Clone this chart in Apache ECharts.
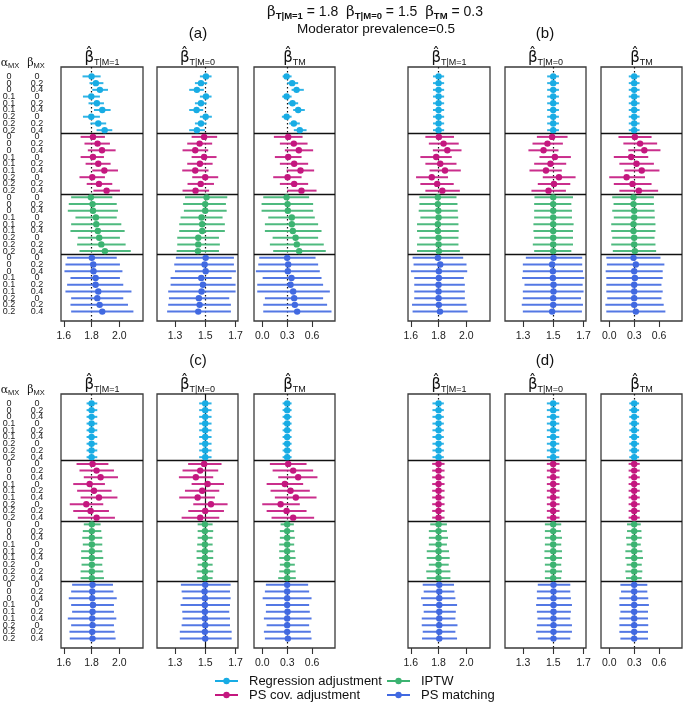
<!DOCTYPE html>
<html><head><meta charset="utf-8">
<script src="https://cdn.jsdelivr.net/npm/echarts@6/dist/echarts.min.js"></script>
<style>html,body{margin:0;padding:0;background:#fff}#c{width:685px;height:703px}</style>
</head><body><div id="c"></div>
<script>
// ---------- labels / categories ----------
const methods = ['Regression adjustment', 'PS cov. adjustment', 'IPTW', 'PS matching'];
const alphaMX = ['0','0','0','0.1','0.1','0.1','0.2','0.2','0.2'];
const betaMX = ['0','0.2','0.4'];
const trueValues = [1.8, 1.5, 0.3];
const ticks1 = [1.6, 1.8, 2.0];
const ticks2 = [1.3, 1.5, 1.7];
const ticks3 = [0.0, 0.3, 0.6];

// ---------- panel (a) ----------
const est_a1 = [1.800,1.831,1.860,1.798,1.838,1.877,1.798,1.848,1.894, 1.810,1.843,1.875,1.810,1.848,1.892,1.805,1.853,1.908, 1.795,1.807,1.810,1.831,1.834,1.845,1.855,1.870,1.896, 1.802,1.812,1.814,1.829,1.829,1.848,1.841,1.858,1.877];
const lo_a1 = [1.735,1.785,1.805,1.738,1.778,1.817,1.738,1.792,1.836, 1.721,1.749,1.773,1.721,1.757,1.805,1.713,1.765,1.813, 1.653,1.636,1.629,1.684,1.653,1.648,1.701,1.696,1.713, 1.624,1.612,1.605,1.648,1.624,1.612,1.653,1.648,1.653];
const hi_a1 = [1.865,1.885,1.918,1.860,1.889,1.937,1.860,1.905,1.949, 1.896,1.932,1.973,1.889,1.937,1.990,1.896,1.949,2.004, 1.949,1.981,1.990,1.981,2.014,2.038,2.004,2.045,2.082, 1.981,2.004,2.022,2.004,2.028,2.087,2.028,2.062,2.101];
const est_a2 = [1.505,1.472,1.445,1.505,1.472,1.443,1.503,1.472,1.445, 1.493,1.463,1.434,1.493,1.465,1.434,1.500,1.470,1.436, 1.509,1.500,1.500,1.476,1.480,1.480,1.454,1.454,1.452, 1.503,1.496,1.503,1.474,1.485,1.476,1.458,1.463,1.454];
const lo_a2 = [1.465,1.432,1.394,1.465,1.432,1.394,1.465,1.432,1.394, 1.410,1.381,1.350,1.410,1.381,1.348,1.414,1.383,1.350, 1.366,1.354,1.359,1.337,1.328,1.328,1.315,1.315,1.311, 1.306,1.295,1.300,1.271,1.271,1.255,1.260,1.255,1.248];
const hi_a2 = [1.542,1.513,1.491,1.542,1.509,1.487,1.544,1.509,1.498, 1.579,1.546,1.520,1.575,1.549,1.522,1.586,1.558,1.526, 1.646,1.637,1.642,1.615,1.630,1.630,1.591,1.597,1.591, 1.690,1.690,1.703,1.675,1.701,1.701,1.659,1.670,1.670];
const est_a3 = [0.293,0.360,0.413,0.293,0.364,0.432,0.293,0.380,0.452, 0.312,0.380,0.440,0.312,0.384,0.460,0.305,0.384,0.472, 0.293,0.305,0.308,0.356,0.356,0.368,0.401,0.416,0.444, 0.300,0.312,0.308,0.352,0.340,0.372,0.384,0.392,0.420];
const lo_a3 = [0.245,0.300,0.353,0.240,0.312,0.372,0.236,0.324,0.380, 0.140,0.212,0.272,0.152,0.212,0.293,0.132,0.212,0.300, 0.012,-0.008,-0.008,0.072,0.032,0.032,0.125,0.092,0.132, -0.036,-0.048,-0.076,0.005,-0.060,-0.060,0.032,0.012,0.012];
const hi_a3 = [0.353,0.432,0.500,0.353,0.432,0.512,0.353,0.452,0.533, 0.485,0.545,0.612,0.473,0.552,0.624,0.473,0.552,0.653, 0.564,0.612,0.612,0.632,0.672,0.713,0.672,0.740,0.764, 0.641,0.672,0.692,0.713,0.732,0.813,0.732,0.780,0.833];

// ---------- panel (b) ----------
const est_b1 = [1.800,1.800,1.800,1.800,1.800,1.800,1.800,1.800,1.800, 1.802,1.836,1.863,1.783,1.812,1.846,1.751,1.790,1.827, 1.795,1.795,1.798,1.800,1.795,1.795,1.800,1.800,1.802, 1.795,1.812,1.802,1.802,1.800,1.800,1.800,1.802,1.810];
const lo_b1 = [1.760,1.760,1.760,1.760,1.760,1.760,1.760,1.760,1.760, 1.705,1.730,1.759,1.669,1.705,1.735,1.638,1.669,1.705, 1.662,1.662,1.657,1.669,1.645,1.645,1.662,1.645,1.645, 1.613,1.620,1.601,1.625,1.625,1.625,1.625,1.609,1.613];
const hi_b1 = [1.840,1.840,1.840,1.840,1.840,1.840,1.840,1.840,1.840, 1.911,1.945,1.965,1.895,1.929,1.960,1.868,1.909,1.953, 1.929,1.936,1.938,1.941,1.943,1.945,1.943,1.943,1.953, 1.977,2.001,2.006,1.982,1.989,1.989,1.989,2.001,2.009];
const est_b2 = [1.500,1.500,1.500,1.500,1.500,1.500,1.500,1.500,1.500, 1.493,1.462,1.436,1.511,1.482,1.452,1.538,1.505,1.469, 1.500,1.500,1.500,1.500,1.500,1.500,1.500,1.500,1.500, 1.502,1.493,1.498,1.498,1.502,1.502,1.500,1.500,1.493];
const lo_b2 = [1.460,1.460,1.460,1.460,1.460,1.460,1.460,1.460,1.460, 1.392,1.363,1.336,1.409,1.374,1.343,1.431,1.398,1.356, 1.376,1.374,1.374,1.374,1.369,1.369,1.374,1.365,1.374, 1.319,1.299,1.299,1.294,1.310,1.299,1.299,1.292,1.299];
const hi_b2 = [1.538,1.538,1.538,1.538,1.538,1.538,1.538,1.538,1.538, 1.595,1.564,1.535,1.617,1.586,1.557,1.648,1.613,1.584, 1.631,1.620,1.624,1.624,1.635,1.631,1.631,1.631,1.620, 1.692,1.692,1.697,1.706,1.695,1.701,1.684,1.697,1.690];
const est_b3 = [0.300,0.300,0.300,0.300,0.300,0.300,0.300,0.300,0.300, 0.308,0.371,0.422,0.264,0.328,0.391,0.209,0.280,0.356, 0.292,0.292,0.300,0.300,0.292,0.292,0.300,0.300,0.308, 0.292,0.320,0.300,0.308,0.300,0.300,0.300,0.300,0.320];
const lo_b3 = [0.235,0.235,0.235,0.235,0.235,0.235,0.235,0.235,0.235, 0.111,0.170,0.229,0.055,0.122,0.182,0.000,0.055,0.122, 0.036,0.052,0.036,0.055,0.024,0.024,0.036,0.024,0.043, -0.035,-0.028,-0.043,-0.035,-0.035,-0.035,-0.024,-0.047,-0.035];
const hi_b3 = [0.365,0.365,0.365,0.365,0.365,0.365,0.365,0.365,0.365, 0.509,0.576,0.616,0.469,0.537,0.604,0.430,0.509,0.588, 0.537,0.537,0.545,0.548,0.556,0.556,0.545,0.556,0.564, 0.616,0.663,0.643,0.643,0.628,0.643,0.628,0.655,0.675];

// ---------- panel (c) ----------
const est_c1 = [1.800,1.800,1.800,1.800,1.800,1.800,1.800,1.800,1.800, 1.807,1.836,1.865,1.786,1.817,1.853,1.762,1.793,1.836, 1.802,1.802,1.802,1.802,1.802,1.802,1.802,1.802,1.802, 1.807,1.805,1.805,1.810,1.807,1.805,1.807,1.805,1.807];
const lo_c1 = [1.764,1.764,1.764,1.764,1.764,1.764,1.764,1.764,1.764, 1.692,1.713,1.744,1.668,1.696,1.721,1.643,1.668,1.701, 1.744,1.737,1.733,1.737,1.725,1.725,1.728,1.721,1.721, 1.660,1.653,1.636,1.653,1.660,1.629,1.653,1.641,1.643];
const hi_c1 = [1.841,1.841,1.841,1.841,1.841,1.841,1.841,1.841,1.841, 1.921,1.961,1.990,1.896,1.944,1.986,1.884,1.925,1.968, 1.865,1.870,1.877,1.877,1.877,1.884,1.877,1.884,1.889, 1.954,1.957,1.981,1.961,1.961,1.978,1.961,1.966,1.973];
const est_c2 = [1.500,1.500,1.500,1.500,1.500,1.500,1.500,1.500,1.500, 1.493,1.467,1.438,1.516,1.480,1.450,1.538,1.500,1.467, 1.498,1.498,1.498,1.498,1.498,1.498,1.498,1.498,1.498, 1.500,1.496,1.498,1.498,1.498,1.498,1.500,1.498,1.500];
const lo_c2 = [1.460,1.460,1.460,1.460,1.460,1.460,1.460,1.460,1.460, 1.387,1.350,1.326,1.410,1.366,1.328,1.421,1.388,1.344, 1.450,1.450,1.450,1.447,1.443,1.443,1.450,1.443,1.447, 1.339,1.344,1.350,1.337,1.348,1.350,1.344,1.332,1.332];
const hi_c2 = [1.542,1.542,1.542,1.542,1.542,1.542,1.542,1.542,1.542, 1.608,1.586,1.553,1.624,1.593,1.564,1.648,1.624,1.593, 1.549,1.553,1.549,1.549,1.553,1.553,1.549,1.553,1.549, 1.668,1.664,1.668,1.664,1.659,1.664,1.664,1.675,1.675];
const est_c3 = [0.300,0.300,0.300,0.300,0.300,0.300,0.300,0.300,0.300, 0.312,0.372,0.432,0.272,0.340,0.404,0.221,0.293,0.372, 0.300,0.300,0.300,0.300,0.300,0.300,0.300,0.300,0.300, 0.300,0.300,0.300,0.300,0.304,0.300,0.300,0.300,0.308];
const lo_c3 = [0.245,0.245,0.245,0.245,0.245,0.245,0.245,0.245,0.245, 0.092,0.125,0.192,0.053,0.100,0.152,0.000,0.053,0.112, 0.221,0.212,0.212,0.204,0.204,0.204,0.212,0.204,0.192, 0.044,0.032,0.005,0.044,0.044,0.020,0.053,0.020,0.032];
const hi_c3 = [0.353,0.353,0.353,0.353,0.353,0.353,0.353,0.353,0.353, 0.533,0.612,0.664,0.492,0.572,0.653,0.452,0.533,0.624, 0.380,0.384,0.392,0.384,0.392,0.401,0.392,0.401,0.404, 0.552,0.564,0.593,0.564,0.572,0.593,0.564,0.584,0.593];

// ---------- panel (d) ----------
const est_d1 = [1.800,1.800,1.800,1.800,1.800,1.800,1.800,1.800,1.800, 1.800,1.800,1.800,1.800,1.800,1.800,1.800,1.800,1.800, 1.800,1.800,1.800,1.800,1.800,1.800,1.800,1.800,1.800, 1.805,1.805,1.805,1.805,1.805,1.805,1.805,1.805,1.805];
const lo_d1 = [1.756,1.756,1.756,1.756,1.756,1.756,1.756,1.756,1.756, 1.754,1.754,1.754,1.754,1.754,1.754,1.754,1.754,1.754, 1.740,1.730,1.730,1.730,1.715,1.715,1.730,1.711,1.715, 1.686,1.693,1.674,1.686,1.693,1.679,1.679,1.686,1.681];
const hi_d1 = [1.838,1.838,1.838,1.838,1.838,1.838,1.838,1.838,1.838, 1.843,1.843,1.843,1.843,1.843,1.843,1.843,1.843,1.843, 1.860,1.860,1.868,1.860,1.875,1.880,1.873,1.885,1.885, 1.911,1.914,1.921,1.933,1.924,1.921,1.936,1.921,1.933];
const est_d2 = [1.500,1.500,1.500,1.500,1.500,1.500,1.500,1.500,1.500, 1.500,1.500,1.500,1.500,1.500,1.500,1.500,1.500,1.500, 1.500,1.500,1.500,1.500,1.500,1.500,1.500,1.500,1.500, 1.502,1.502,1.502,1.502,1.502,1.502,1.502,1.502,1.502];
const lo_d2 = [1.458,1.458,1.458,1.458,1.458,1.458,1.458,1.458,1.458, 1.458,1.458,1.458,1.458,1.458,1.458,1.458,1.458,1.458, 1.445,1.445,1.445,1.445,1.442,1.442,1.445,1.445,1.445, 1.398,1.392,1.392,1.387,1.392,1.396,1.392,1.387,1.398];
const hi_d2 = [1.540,1.540,1.540,1.540,1.540,1.540,1.540,1.540,1.540, 1.542,1.542,1.542,1.542,1.542,1.542,1.542,1.542,1.542, 1.553,1.551,1.558,1.553,1.558,1.558,1.553,1.558,1.553, 1.613,1.613,1.617,1.624,1.617,1.613,1.624,1.624,1.613];
const est_d3 = [0.300,0.300,0.300,0.300,0.300,0.300,0.300,0.300,0.300, 0.300,0.300,0.300,0.300,0.300,0.300,0.300,0.300,0.300, 0.300,0.300,0.300,0.300,0.300,0.300,0.300,0.300,0.300, 0.300,0.300,0.300,0.300,0.300,0.300,0.300,0.300,0.300];
const lo_d3 = [0.241,0.241,0.241,0.241,0.241,0.241,0.241,0.241,0.241, 0.233,0.233,0.233,0.233,0.233,0.233,0.233,0.233,0.233, 0.214,0.214,0.202,0.209,0.194,0.194,0.209,0.194,0.202, 0.134,0.142,0.122,0.122,0.134,0.122,0.122,0.122,0.134];
const hi_d3 = [0.359,0.359,0.359,0.359,0.359,0.359,0.359,0.359,0.359, 0.367,0.367,0.367,0.367,0.367,0.367,0.367,0.367,0.367, 0.379,0.387,0.391,0.379,0.398,0.406,0.391,0.398,0.391, 0.458,0.458,0.469,0.477,0.466,0.466,0.469,0.466,0.466];

// ---------- layout / style (not data) ----------
const COLORS = ['#18ACE4', '#C4177F', '#3CB371', '#4169E1'];
const FONT = 'Liberation Sans, Arial, sans-serif';
const xRanges = [[1.58, 2.17], [1.181, 1.717], [-0.099, 0.875]];
const tickSets = [ticks1, ticks2, ticks3];
const BOX_H = 254;
const panels = [
  { name: '(a)', est: [est_a1, est_a2, est_a3], lo: [lo_a1, lo_a2, lo_a3], hi: [hi_a1, hi_a2, hi_a3], top: 67,  lefts: [61, 157, 254], rowLabels: true, trueDash: [true, true, true] },
  { name: '(b)', est: [est_b1, est_b2, est_b3], lo: [lo_b1, lo_b2, lo_b3], hi: [hi_b1, hi_b2, hi_b3], top: 67,  lefts: [408, 505, 601], rowLabels: false, trueDash: [true, true, true] },
  { name: '(c)', est: [est_c1, est_c2, est_c3], lo: [lo_c1, lo_c2, lo_c3], hi: [hi_c1, hi_c2, hi_c3], top: 394, lefts: [61, 157, 254], rowLabels: true, trueDash: [true, false, true] },
  { name: '(d)', est: [est_d1, est_d2, est_d3], lo: [lo_d1, lo_d2, lo_d3], hi: [hi_d1, hi_d2, hi_d3], top: 394, lefts: [408, 505, 601], rowLabels: false, trueDash: [true, true, true] }
];
const headerSubs = ['T|M=1', 'T|M=0', 'TM'];
// label positions: rows 1..36, padded by two blank guard entries (0 and 37)
const labelRows = Array.from({ length: 38 }, (_, i) => i);

const option = {
  animation: false,
  backgroundColor: '#ffffff',
  textStyle: { fontFamily: FONT },
  grid: [], xAxis: [], yAxis: [], series: [], graphic: []
};

function renderCI(color) {
  return function (params, api) {
    const y = api.value(1);
    const p = api.coord([api.value(0), y]);
    const a = api.coord([api.value(2), y]);
    const b = api.coord([api.value(3), y]);
    return {
      type: 'group',
      children: [
        { type: 'line', shape: { x1: a[0], y1: a[1], x2: b[0], y2: b[1] }, style: { stroke: color, lineWidth: 2, opacity: 0.9 } },
        { type: 'circle', shape: { cx: p[0], cy: p[1], r: 3.2 }, style: { fill: color } }
      ]
    };
  };
}

function rowLabelAxis(gi, list, margin) {
  return {
    type: 'value', gridIndex: gi, min: -0.4, max: 37.4, inverse: true, position: 'left',
    axisLine: { show: false, onZero: false }, axisTick: { show: false }, splitLine: { show: false },
    axisLabel: {
      customValues: labelRows,
      formatter: (v) => { const r = Math.round(v); return (r < 1 || r > 36) ? '' : list[(r - 1) % list.length]; },
      align: 'center', verticalAlign: 'middle', margin: margin,
      fontSize: 9, color: '#222', fontFamily: FONT,
      hideOverlap: false, showMinLabel: false, showMaxLabel: false
    }
  };
}

panels.forEach((P) => {
  for (let k = 0; k < 3; k++) {
    const gi = option.grid.length;
    const width = k === 0 ? 82 : 81;
    option.grid.push({
      left: P.lefts[k], top: P.top, width: width, height: BOX_H,
      show: true, borderColor: '#3a3a3a', borderWidth: 1.3, backgroundColor: 'transparent',
      outerBoundsMode: 'none', containLabel: false
    });
    option.xAxis.push({
      type: 'value', gridIndex: gi, min: xRanges[k][0], max: xRanges[k][1], position: 'bottom',
      axisLine: { show: false, onZero: false }, splitLine: { show: false },
      axisTick: { show: true, inside: false, length: 6, customValues: tickSets[k], lineStyle: { color: '#333', width: 1.1 } },
      axisLabel: { customValues: tickSets[k], formatter: (v) => Number(v).toFixed(1), fontSize: 10.5, color: '#222', margin: 10, fontFamily: FONT, hideOverlap: false }
    });
    const yi = option.yAxis.length;
    option.yAxis.push({ type: 'value', gridIndex: gi, min: -0.4, max: 37.4, inverse: true, show: false, axisLine: { onZero: false } });
    if (k === 0 && P.rowLabels) {
      option.yAxis.push(rowLabelAxis(gi, betaMX, 24));
      option.yAxis.push(rowLabelAxis(gi, alphaMX, 52));
    }
    for (let m = 0; m < 4; m++) {
      const data = [];
      for (let i = m * 9; i < m * 9 + 9; i++) data.push([P.est[k][i], i + 1, P.lo[k][i], P.hi[k][i]]);
      const s = {
        type: 'custom', name: methods[m], xAxisIndex: gi, yAxisIndex: yi,
        renderItem: renderCI(COLORS[m]), data: data, encode: { x: [0, 2, 3], y: 1 }, silent: true, z: 3
      };
      if (m === 0) {
        s.markLine = {
          silent: true, symbol: ['none', 'none'], label: { show: false }, animation: false, z: 2,
          lineStyle: { color: '#111', width: 1.4, type: 'solid' },
          data: [
            { xAxis: trueValues[k], lineStyle: { color: '#111', width: 1.2, type: P.trueDash[k] ? [1.5, 2.5] : 'solid' } },
            { yAxis: 9.5 }, { yAxis: 18.5 }, { yAxis: 27.5 }
          ]
        };
      }
      option.series.push(s);
    }
    // column header
    const cx = P.lefts[k] + width / 2;
    option.graphic.push({
      type: 'text', x: cx, y: P.top - 9, silent: true,
      style: {
        text: '{b|\u03B2\u0302}{s|' + headerSubs[k] + '}', align: 'center', verticalAlign: 'middle',
        rich: {
          b: { fontSize: 15, fontFamily: 'DejaVu Sans', fill: '#111', lineHeight: 18, verticalAlign: 'middle' },
          s: { fontSize: 9, fontFamily: FONT, fill: '#111', lineHeight: 12, verticalAlign: 'bottom', padding: [4, 0, 0, 0] }
        }
      }
    });
  }
  // panel label
  const midX = (P.lefts[0] + P.lefts[2] + 81) / 2;
  option.graphic.push({
    type: 'text', x: midX, y: P.top - 33, silent: true,
    style: { text: P.name, align: 'center', verticalAlign: 'middle', fontSize: 15, fontFamily: FONT, fill: '#111' }
  });
  if (P.rowLabels) {
    [['\u03B1', 10], ['\u03B2', 36]].forEach(([g, x]) => {
      option.graphic.push({
        type: 'text', x: x, y: P.top - 4, silent: true,
        style: {
          text: '{g|' + g + '}{s|MX}', align: 'center', verticalAlign: 'middle',
          rich: {
            g: { fontSize: 11, fontFamily: 'DejaVu Serif', fill: '#111', lineHeight: 14, verticalAlign: 'middle' },
            s: { fontSize: 7.5, fontFamily: FONT, fill: '#111', lineHeight: 10, verticalAlign: 'bottom' }
          }
        }
      });
    });
  }
});

// overall titles
option.graphic.push({
  type: 'text', x: 375, y: 12, silent: true,
  style: {
    text: '{b|\u03B2}{s|T|M=1}{t| = 1.8  }{b|\u03B2}{s|T|M=0}{t| = 1.5  }{b|\u03B2}{s|TM}{t| = 0.3}',
    align: 'center', verticalAlign: 'middle',
    rich: {
      b: { fontSize: 15, fontFamily: 'DejaVu Serif', fill: '#111', lineHeight: 18, verticalAlign: 'middle' },
      s: { fontSize: 9.5, fontWeight: 'bold', fontFamily: FONT, fill: '#111', lineHeight: 12, verticalAlign: 'bottom' },
      t: { fontSize: 14, fontFamily: FONT, fill: '#111', lineHeight: 18, verticalAlign: 'middle' }
    }
  }
});
option.graphic.push({
  type: 'text', x: 376, y: 29, silent: true,
  style: { text: 'Moderator prevalence=0.5', align: 'center', verticalAlign: 'middle', fontSize: 13.5, fontFamily: FONT, fill: '#111' }
});

// legend (drawn as a 2x2 key)
const legendPos = [[215, 681], [215, 695], [387, 681], [387, 695]];
methods.forEach((name, m) => {
  const [lx, ly] = legendPos[m];
  option.graphic.push({ type: 'line', silent: true, shape: { x1: lx, y1: ly, x2: lx + 23, y2: ly }, style: { stroke: COLORS[m], lineWidth: 2 } });
  option.graphic.push({ type: 'circle', silent: true, shape: { cx: lx + 11.5, cy: ly, r: 3.2 }, style: { fill: COLORS[m] } });
  option.graphic.push({ type: 'text', silent: true, x: lx + 34, y: ly, style: { text: name, align: 'left', verticalAlign: 'middle', fontSize: 13, fontFamily: FONT, fill: '#111' } });
});

const chart = echarts.init(document.getElementById('c'), null, { renderer: 'canvas', width: 685, height: 703 });
chart.setOption(option);
</script>
</body></html>
